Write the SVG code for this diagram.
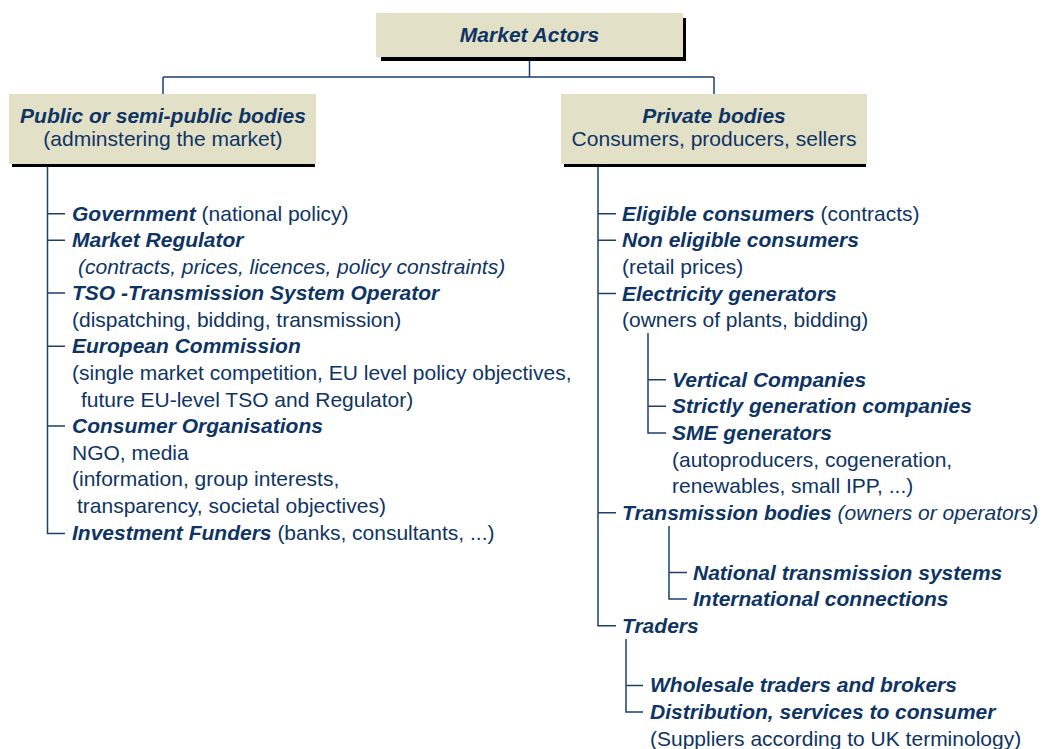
<svg xmlns="http://www.w3.org/2000/svg" width="1044" height="749" viewBox="0 0 1044 749">
<style>
text{font-family:"Liberation Sans",Arial,sans-serif;font-size:21px;fill:#0E3464}
.b{font-weight:bold;font-style:italic}
.i{font-style:italic}
.c{text-anchor:middle}
.box{fill:#E3E0C8}
.sh{fill:#000}
.ln{stroke:#1D3F6E;stroke-width:1.5;fill:none}
</style>
<rect width="1044" height="749" fill="#fff"/>
<g id="connectors">
<path class="ln" d="M529.5 57V77M163 77H714M163 77V94M714 77V94"/>
<path class="ln" d="M47.5 164V533.5H65M47.5 213.7H65M47.5 240.3H65M47.5 293H65M47.5 346.3H65M47.5 426H65"/>
<path class="ln" d="M598 164V625.7H616M598 213.7H616M598 240.3H616M598 293.6H616M598 512.8H616"/>
<path class="ln" d="M648 333V433H666M648 379.7H666M648 406.3H666"/>
<path class="ln" d="M669 526V599H687M669 572.5H687"/>
<path class="ln" d="M626 639V712H643M626 685.4H643"/>
</g>
<g id="market-actors">
<rect class="sh" x="381" y="18" width="305" height="43"/>
<rect class="box" x="376" y="13" width="307" height="44"/>
<text class="b c" x="529.5" y="41.7">Market Actors</text>
</g>
<g id="public-bodies">
<rect class="sh" x="12" y="97" width="303" height="70"/>
<rect class="box" x="9" y="94" width="307" height="70"/>
<text class="b c" x="163" y="122.7">Public or semi-public bodies</text>
<text class="c" x="163" y="145.5">(adminstering the market)</text>
</g>
<g id="private-bodies">
<rect class="sh" x="564" y="97" width="302" height="70"/>
<rect class="box" x="561" y="94" width="306" height="70"/>
<text class="b c" x="714" y="122.7">Private bodies</text>
<text class="c" x="714" y="145.5">Consumers, producers, sellers</text>
</g>
<g id="government"><text x="72" y="220.7"><tspan class="b">Government</tspan> (national policy)</text></g>
<g id="market-regulator">
<text class="b" x="72" y="247.3">Market Regulator</text>
<text class="i" x="78" y="274">(contracts, prices, licences, policy constraints)</text>
</g>
<g id="tso">
<text class="b" x="72" y="300">TSO -Transmission System Operator</text>
<text x="72" y="326.6">(dispatching, bidding, transmission)</text>
</g>
<g id="european-commission">
<text class="b" x="72" y="353.3">European Commission</text>
<text x="72" y="380">(single market competition, EU level policy objectives,</text>
<text x="81" y="406.6">future EU-level TSO and Regulator)</text>
</g>
<g id="consumer-organisations">
<text class="b" x="72" y="433">Consumer Organisations</text>
<text x="72" y="459.6">NGO, media</text>
<text x="72" y="486.2">(information, group interests,</text>
<text x="77" y="512.8">transparency, societal objectives)</text>
</g>
<g id="investment-funders"><text x="72" y="540"><tspan class="b">Investment Funders</tspan> (banks, consultants, ...)</text></g>
<g id="eligible-consumers"><text x="622" y="220.7"><tspan class="b">Eligible consumers</tspan> (contracts)</text></g>
<g id="non-eligible-consumers">
<text class="b" x="622" y="247.3">Non eligible consumers</text>
<text x="622" y="274">(retail prices)</text>
</g>
<g id="electricity-generators">
<text class="b" x="622" y="300.6">Electricity generators</text>
<text x="622" y="327.2">(owners of plants, bidding)</text>
</g>
<g id="vertical-companies"><text class="b" x="672" y="386.7">Vertical Companies</text></g>
<g id="strictly-generation"><text class="b" x="672" y="413.3">Strictly generation companies</text></g>
<g id="sme-generators">
<text class="b" x="672" y="440">SME generators</text>
<text x="672" y="466.6">(autoproducers, cogeneration,</text>
<text x="672" y="493.2">renewables, small IPP, ...)</text>
</g>
<g id="transmission-bodies"><text x="622" y="519.8"><tspan class="b">Transmission bodies</tspan> <tspan class="i">(owners or operators)</tspan></text></g>
<g id="national-transmission"><text class="b" x="693" y="579.5">National transmission systems</text></g>
<g id="international-connections"><text class="b" x="693" y="606.1">International connections</text></g>
<g id="traders"><text class="b" x="622" y="632.7">Traders</text></g>
<g id="wholesale-traders"><text class="b" x="650" y="692.4">Wholesale traders and brokers</text></g>
<g id="distribution">
<text class="b" x="650" y="719">Distribution, services to consumer</text>
<text x="650" y="745.6">(Suppliers according to UK terminology)</text>
</g>
</svg>
